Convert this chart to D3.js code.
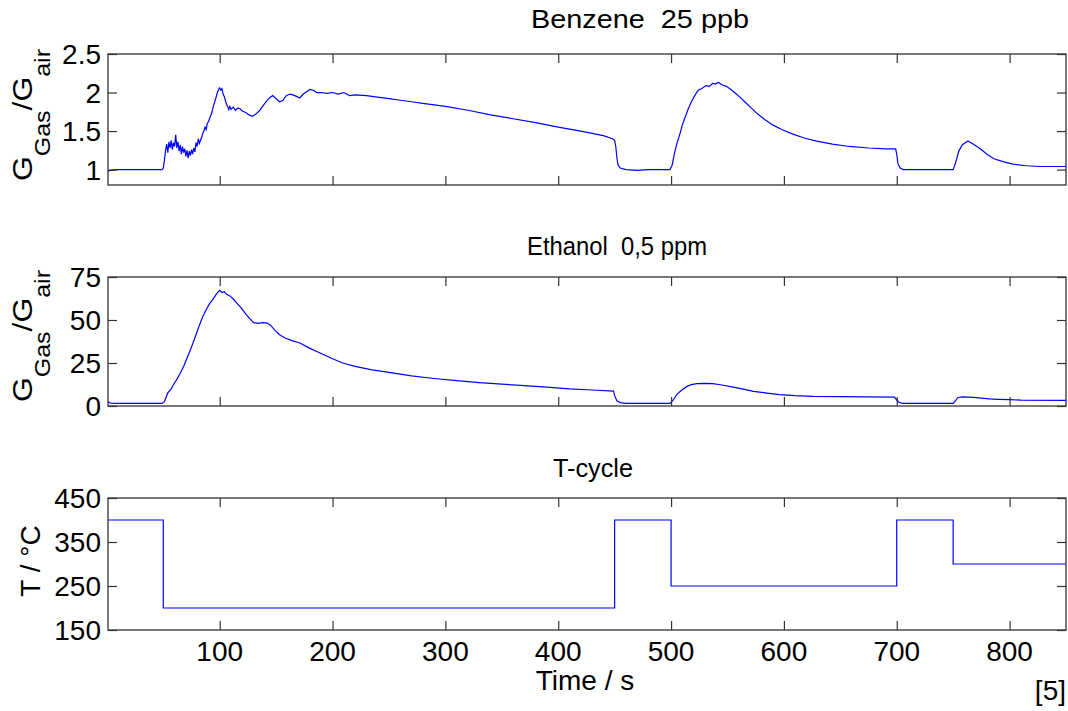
<!DOCTYPE html>
<html><head><meta charset="utf-8">
<script src="https://cdn.jsdelivr.net/npm/d3@7"></script>
<style>html,body{margin:0;padding:0;background:#fff;}svg{display:block;font-family:"Liberation Sans",Arial,sans-serif;}text{white-space:pre;}</style>
</head><body><svg id="c" width="1068" height="711"></svg>
<script>
// ---- data ----
const xTicks = [100,200,300,400,500,600,700,800];
const benzeneTicks = [1,1.5,2,2.5];
const ethanolTicks = [0,25,50,75];
const tempTicks = [150,250,350,450];

const benzeneT = [1,3,8,20,30,40,49,50,51,52,53,54,55,56,57,58,59,60,61,62,63,64,65,66,67,68,69,70,71,72,73,74,75,76,77,78,79,80,81,82,83,84,85,86,87,88,89,90,91,92,93,94,95,96,97,98,99,100,101,102,103,104,105,106,107,108,109,110,112,114,116,118,120,123,126,129,132,135,138,141,144,147,150,153,156,159,162,165,168,171,174,177,180,183,186,190,195,200,205,210,215,220,230,240,250,260,270,280,290,300,320,340,360,380,400,420,440,448,450,451,452,453,455,460,470,480,490,499,501,503,505,508,510,512,515,518,521,524,527,531,534,537,539,542,545,549,553,557,561,566,571,576,583,590,598,608,618,629,643,658,675,690,699,700,701,703,706,720,735,750,752,755,758,763,768,774,780,786,795,803,815,827,850];
const benzeneV = [0.98,0.99,1.0,1.0,1.0,1.0,1.0,1.02,1.12,1.25,1.33,1.22,1.36,1.28,1.38,1.26,1.35,1.30,1.45,1.28,1.36,1.24,1.32,1.20,1.30,1.22,1.27,1.17,1.25,1.15,1.24,1.18,1.26,1.20,1.28,1.23,1.35,1.30,1.40,1.34,1.38,1.42,1.47,1.50,1.55,1.52,1.60,1.62,1.66,1.70,1.74,1.80,1.85,1.90,1.95,2.00,2.04,2.06,2.03,2.05,1.98,1.95,1.90,1.85,1.82,1.78,1.82,1.78,1.81,1.77,1.80,1.79,1.76,1.74,1.71,1.69,1.72,1.76,1.82,1.88,1.93,1.96,1.92,1.88,1.90,1.96,1.98,1.97,1.95,1.93,1.98,2.01,2.04,2.03,2.00,2.00,1.99,2.00,1.98,2.00,1.96,1.97,1.96,1.94,1.92,1.90,1.88,1.86,1.84,1.82,1.77,1.71,1.66,1.61,1.55,1.50,1.44,1.40,1.38,1.30,1.15,1.06,1.02,1.0,0.99,1.0,1.0,1.0,1.06,1.21,1.33,1.47,1.58,1.66,1.78,1.88,1.96,2.03,2.05,2.09,2.08,2.12,2.11,2.13,2.10,2.08,2.04,1.99,1.94,1.87,1.80,1.73,1.65,1.58,1.52,1.46,1.41,1.37,1.33,1.30,1.28,1.27,1.27,1.20,1.08,1.02,1.0,1.0,1.0,1.0,1.08,1.24,1.32,1.37,1.33,1.27,1.20,1.14,1.10,1.07,1.05,1.04,1.04];

const ethanolT = [1,3,10,30,49,51,54,57,60,62,65,68,70.5,73,76,79,82,85,88,91,94,97,100,102,104,106,109,112,115,119,123,127,130,134,138,142,145,149,153,158,164,171,180,189,199,209,220,235,250,270,290,310,330,350,370,390,410,430,449,450,452,455,460,480,499,502,505,509,514,518,523,530,537,545,555,564,573,585,596,610,626,650,675,698,700,702,705,720,750,752,754,758,768,775,782,790,800,810,850];
const ethanolV = [2.7,1.6,1.5,1.5,1.5,2.5,7.6,10,13.5,15.5,19,23,27,31,36,41.4,47,52,56,59.5,62,65,67.2,66,66.5,65,64,62.2,60,57,53.5,50.5,48.5,48,48.5,48.2,47,44,41.4,39.5,38,36.6,33.5,30.8,27.8,25,23,21,19.5,17.5,16,14.7,13.6,12.7,11.8,11,10,9.3,8.7,6,3,2.0,1.5,1.5,1.5,3.5,6.6,9,11.4,12.4,13,13.2,13,12.2,11,9.8,8.5,7.5,6.6,6.0,5.6,5.4,5.3,5.2,3.5,2.2,1.5,1.5,1.5,3,4.8,5.3,5.0,4.6,4.1,3.9,3.7,3.4,3.3];

const tempT = [1,50,450,500,700,750,850];
const tempV = [400,200,400,250,400,300,300];

// ---- layout ----
const svg = d3.select("#c");
const L = 108, R = 1066;
const x = d3.scaleLinear().domain([1,850]).range([L,R]);
const panels = [
  {t:benzeneT, v:benzeneV, dom:[0.8,2.5], top:54, bot:185, ticks:benzeneTicks, fmt:d3.format(""), curve:d3.curveLinear},
  {t:ethanolT, v:ethanolV, dom:[0,75], top:277, bot:406, ticks:ethanolTicks, fmt:d3.format("d"), curve:d3.curveLinear},
  {t:tempT, v:tempV, dom:[150,450], top:498, bot:630, ticks:tempTicks, fmt:d3.format("d"), curve:d3.curveStepAfter}
];
const axisCol = "#333";
const tickLen = 9;

panels.forEach((p,i)=>{
  const y = d3.scaleLinear().domain(p.dom).range([p.bot,p.top]);
  const g = svg.append("g");
  const line = d3.line().x(d=>x(d[0])).y(d=>y(d[1])).curve(p.curve);
  g.append("path").datum(p.t.map((t,j)=>[t,p.v[j]]))
    .attr("d",line).attr("fill","none").attr("stroke","#0000ff").attr("stroke-width",1.2);
  const ax = [
    d3.axisBottom(x).tickValues(xTicks).tickSizeInner(-tickLen).tickSizeOuter(0),
    d3.axisTop(x).tickValues(xTicks).tickSizeInner(-tickLen).tickSizeOuter(0),
    d3.axisLeft(y).tickValues(p.ticks).tickSizeInner(-tickLen).tickSizeOuter(0),
    d3.axisRight(y).tickValues(p.ticks).tickSizeInner(-tickLen).tickSizeOuter(0)
  ];
  const pos = [[0,p.bot],[0,p.top],[L,0],[R,0]];
  ax.forEach((a,k)=>{
    const ag = g.append("g").attr("transform",`translate(${pos[k][0]},${pos[k][1]})`).call(a);
    ag.selectAll("line").attr("stroke",axisCol).attr("stroke-width",1.2);
    ag.select(".domain").remove();
    ag.selectAll("text").remove();
  });
  g.append("rect").attr("x",L).attr("y",p.top).attr("width",R-L).attr("height",p.bot-p.top)
    .attr("fill","none").attr("stroke",axisCol).attr("stroke-width",1.3);
  g.selectAll(".yl").data(p.ticks).enter().append("text")
    .attr("x",101).attr("y",d=>y(d)+10).attr("text-anchor","end")
    .attr("font-size",28).attr("fill","#000").text(p.fmt);
  if(i===2){
    g.selectAll(".xl").data(xTicks).enter().append("text")
      .attr("x",d=>x(d)).attr("y",661).attr("text-anchor","middle")
      .attr("font-size",28).attr("fill","#000").text(d=>d);
  }
});

// titles
svg.append("text").attr("x",531).attr("y",28).attr("font-size",25).attr("textLength",218).attr("lengthAdjust","spacingAndGlyphs").text("Benzene  25 ppb");
svg.append("text").attr("x",527).attr("y",255).attr("font-size",25).attr("textLength",180).attr("lengthAdjust","spacingAndGlyphs").text("Ethanol  0,5 ppm");
svg.append("text").attr("x",553).attr("y",477).attr("font-size",25).attr("textLength",80).attr("lengthAdjust","spacingAndGlyphs").text("T-cycle");

// y labels
function gLabel(cy){
  const t = svg.append("text").attr("transform",`translate(32,${cy}) rotate(-90)`)
    .attr("text-anchor","middle").attr("font-size",28)
    .attr("textLength",132).attr("lengthAdjust","spacingAndGlyphs");
  t.append("tspan").text("G");
  t.append("tspan").attr("font-size",22).attr("dy",18).text("Gas");
  t.append("tspan").attr("dy",-18).text("/G");
  t.append("tspan").attr("font-size",22).attr("dy",18).text("air");
}
gLabel(115);
gLabel(336);
svg.append("text").attr("transform","translate(40,561) rotate(-90)").attr("text-anchor","middle")
  .attr("font-size",28).text("T / °C");

svg.append("text").attr("x",585).attr("y",690).attr("text-anchor","middle").attr("font-size",28).text("Time / s");
svg.append("text").attr("x",1066).attr("y",700).attr("text-anchor","end").attr("font-size",28).text("[5]");
</script></body></html>
